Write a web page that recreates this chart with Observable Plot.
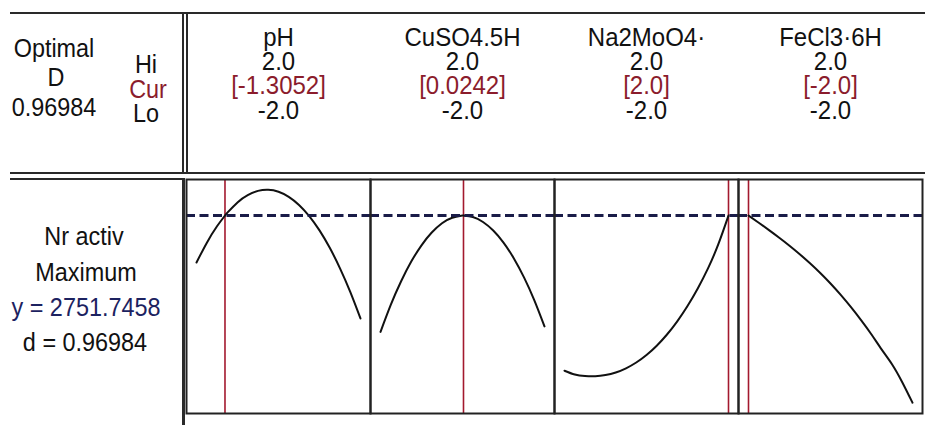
<!DOCTYPE html>
<html>
<head>
<meta charset="utf-8">
<script src="https://cdn.jsdelivr.net/npm/d3@7"></script>
<script src="https://cdn.jsdelivr.net/npm/@observablehq/plot@0.6"></script>
<style>
  body { margin: 0; background: #fff; }
  #chart { position: relative; width: 933px; height: 425px; font-family: "Liberation Sans", Arial, sans-serif; color: #111; }
  #chart svg { position: absolute; left: 0; top: 0; }
  .rule { position: absolute; background: #2a2a2a; }
  .lbl { position: absolute; transform: translate(-50%, -50%) scaleX(0.9); font-size: 26px; line-height: 0.85; white-space: nowrap; }
</style>
</head>
<body>
<div id="chart"></div>
<script>
// Factors of the response optimizer (coded units)
const factors = ["pH", "CuSO4.5H", "Na2MoO4·", "FeCl3·6H"];
const hiLevels = [2.0, 2.0, 2.0, 2.0];
const loLevels = [-2.0, -2.0, -2.0, -2.0];
const currentSettings = [-1.3052, 0.0242, 2.0, -2.0];

// Predicted response "Nr activ" at the optimum
const responseName = "Nr activ";
const goal = "Maximum";
const optimalY = 2751.7458;
const desirability = 0.96984;

// Predicted response along each factor, others held at their current setting
const xGrid = [-2, -1.75, -1.5, -1.25, -1, -0.75, -0.5, -0.25, 0, 0.25, 0.5, 0.75, 1, 1.25, 1.5, 1.75, 2];
const phResponse      = [2282, 2478, 2644, 2779, 2883, 2956, 2998, 3009, 2990, 2939, 2858, 2746, 2603, 2429, 2224, 1988, 1722];
const cuso4Response   = [1588, 1858, 2092, 2291, 2454, 2582, 2674, 2730, 2751, 2737, 2687, 2602, 2481, 2325, 2133, 1906, 1643];
const na2moo4Response = [1200, 1162, 1146, 1144, 1156, 1182, 1224, 1282, 1357, 1450, 1562, 1694, 1847, 2023, 2223, 2463, 2751.7458];
const fecl3Response   = [2751.7458, 2680, 2606, 2530, 2450, 2365, 2274, 2177, 2072, 1958, 1835, 1703, 1562, 1411, 1265, 1085, 880];

// Response range shown in every panel
const yDomain = [772, 3112];

const level = v => v.toFixed(1);
const seriesList = [phResponse, cuso4Response, na2moo4Response, fecl3Response];

const factorRows = factors.map((f, i) => ({
  factor: f,
  hi: level(hiLevels[i]),
  lo: level(loLevels[i]),
  cur: `[${Number.isInteger(currentSettings[i]) ? level(currentSettings[i]) : String(currentSettings[i])}]`,
  current: currentSettings[i]
}));

const curveRows = factors.flatMap((f, i) => {
  const rows = xGrid.map((x, j) => ({factor: f, x, y: seriesList[i][j]}));
  if (!xGrid.includes(currentSettings[i])) rows.push({factor: f, x: currentSettings[i], y: optimalY});
  return rows.sort((a, b) => a.x - b.x);
});

const font = `"Liberation Sans", Arial, sans-serif`;
const headingSize = 25;

const plot = Plot.plot({
  width: 933,
  height: 425,
  marginLeft: 184,
  marginRight: 10,
  marginTop: 179,
  marginBottom: 12,
  style: {fontFamily: font, fontSize: "25px", background: "transparent"},
  fx: {domain: factors, padding: 0, axis: null, label: null},
  x: {domain: [-2, 2], insetLeft: 10, insetRight: 10, axis: null},
  y: {domain: yDomain, axis: null},
  marks: [
    Plot.ruleX(factorRows, {fx: "factor", x: "current", stroke: "#a3192e", strokeWidth: 1.6}),
    Plot.line(curveRows, {fx: "factor", x: "x", y: "y", curve: "natural", stroke: "#111", strokeWidth: 2}),
    Plot.ruleY([optimalY], {stroke: "#1a1c48", strokeWidth: 3, strokeDasharray: "9,4.5"}),
    Plot.frame({stroke: "#222", strokeWidth: 2}),
    // column headings: factor name, high level, current setting, low level
    Plot.text(factorRows, {fx: "factor", text: "factor", frameAnchor: "top", dy: -151, fill: "#111", fontSize: headingSize}),
    Plot.text(factorRows, {fx: "factor", text: "hi", frameAnchor: "top", dy: -127, fill: "#111", fontSize: headingSize}),
    Plot.text(factorRows, {fx: "factor", text: "cur", frameAnchor: "top", dy: -103, fill: "#8b1c2c", fontSize: headingSize}),
    Plot.text(factorRows, {fx: "factor", text: "lo", frameAnchor: "top", dy: -78, fill: "#111", fontSize: headingSize})
  ]
});

// narrow the heading glyphs a little, keeping each anchored where it is
d3.select(plot).selectAll("text").each(function () {
  const t = this.getAttribute("transform");
  if (t) {
    this.setAttribute("transform", `${t} scale(0.96,1)`);
  } else {
    const x = +(this.getAttribute("x") || 0);
    this.setAttribute("x", x / 0.96);
    this.setAttribute("transform", "scale(0.96,1)");
  }
});

const chart = document.getElementById("chart");
chart.appendChild(plot);

// Table rules around the heading and the response block
const rules = [
  {l: 10, t: 12, w: 915, h: 2},
  {l: 10, t: 172, w: 915, h: 2},
  {l: 182, t: 12, w: 2, h: 162},
  {l: 186, t: 12, w: 2, h: 162},
  {l: 10, t: 178, w: 174, h: 2},
  {l: 182, t: 178, w: 3, h: 247}
];
for (const r of rules) {
  const d = document.createElement("div");
  d.className = "rule";
  Object.assign(d.style, {left: r.l + "px", top: r.t + "px", width: r.w + "px", height: r.h + "px"});
  chart.appendChild(d);
}

// Side labels
const labels = [
  {text: "Optimal", x: 54, y: 48},
  {text: "D", x: 56, y: 77},
  {text: String(desirability), x: 54, y: 107},
  {text: "Hi", x: 146, y: 64},
  {text: "Cur", x: 148, y: 89, color: "#8b1c2c"},
  {text: "Lo", x: 146, y: 113},
  {text: responseName, x: 84, y: 236},
  {text: goal, x: 86, y: 272},
  {text: `y = ${optimalY.toFixed(4)}`, x: 86, y: 307, color: "#1c2260"},
  {text: `d = ${desirability.toFixed(5)}`, x: 85, y: 342}
];
for (const l of labels) {
  const d = document.createElement("div");
  d.className = "lbl";
  d.textContent = l.text;
  Object.assign(d.style, {left: l.x + "px", top: l.y + "px", color: l.color || "#111"});
  chart.appendChild(d);
}
</script>
</body>
</html>
